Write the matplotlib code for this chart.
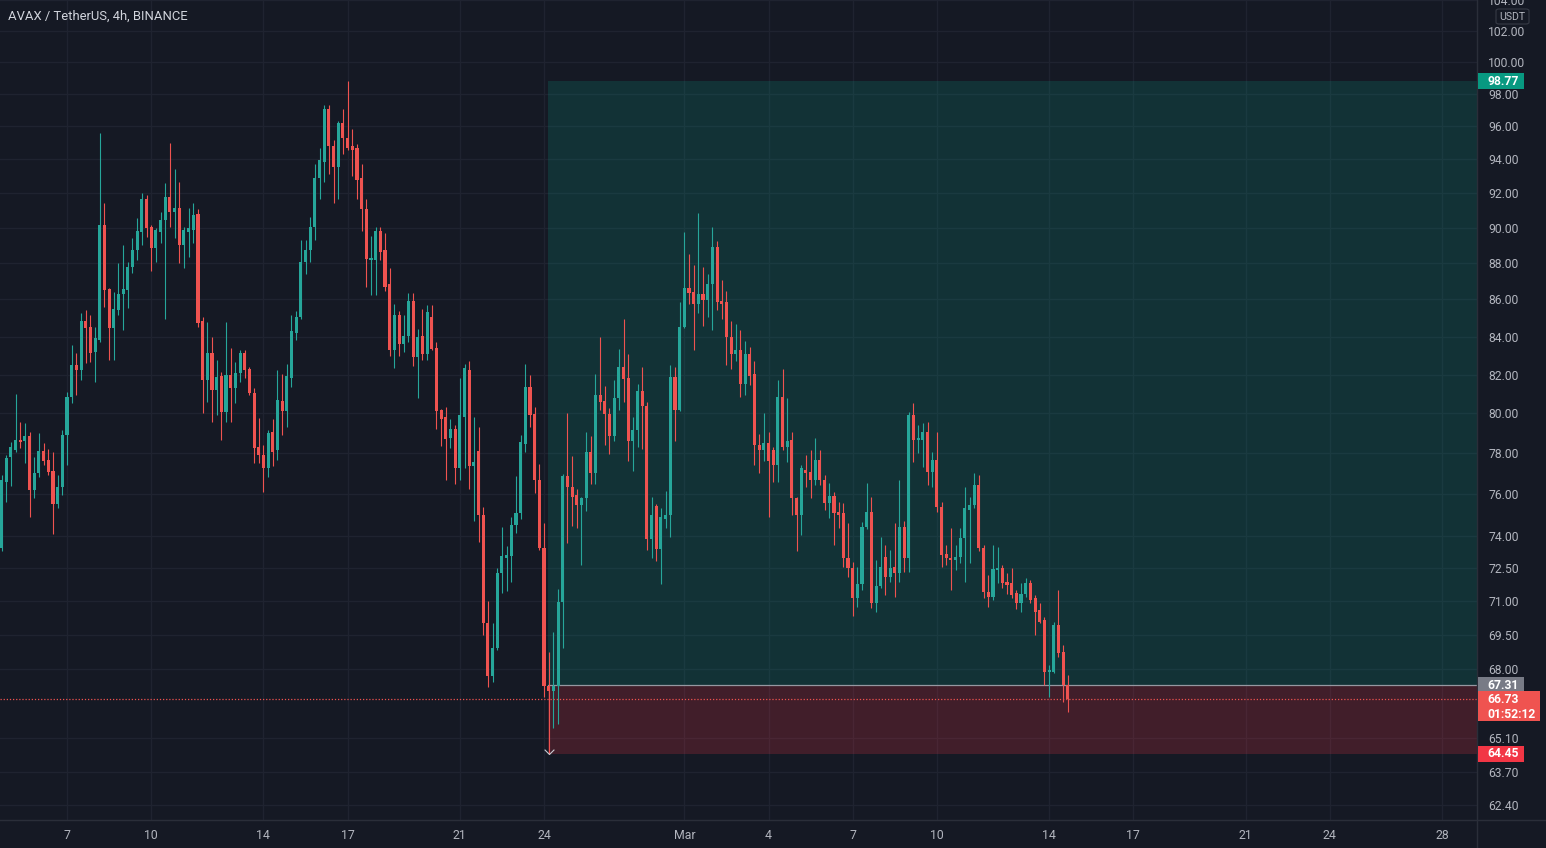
import numpy as np
import pandas as pd
import matplotlib
matplotlib.use("Agg")
import matplotlib.pyplot as plt
from matplotlib.patches import Rectangle, FancyBboxPatch
from matplotlib.lines import Line2D
from matplotlib.ticker import FixedLocator, NullLocator, FixedFormatter

plt.rcParams['font.family'] = ['Roboto', 'DejaVu Sans']

# ---------------- data (AVAX / USDT, 4h candles) ----------------
start = pd.Timestamp('2022-02-04 16:00')

opens = [
    73.44, 76.58, 77.81, 78.16, 78.65, 78.60, 78.85, 76.20, 77.02, 78.11,
    77.66, 77.12, 75.52, 76.34, 78.90, 80.83, 82.49, 82.23, 84.83, 84.50,
    83.17, 83.81, 90.16, 86.58, 84.45, 85.43, 86.30, 86.52, 87.79, 88.74,
    89.76, 91.66, 90.05, 88.85, 89.76, 90.45, 91.78, 90.91, 91.14, 89.03,
    89.76, 89.88, 90.79, 84.83, 81.71, 83.12, 81.19, 81.92, 80.07, 81.97,
    81.30, 82.08, 83.12, 82.28, 81.04, 78.31, 77.91, 77.27, 79.06, 78.16,
    80.63, 80.12, 81.82, 84.19, 85.05, 88.07, 88.74, 90.05, 92.89, 93.84,
    97.05, 94.80, 93.55, 96.20, 95.28, 94.80, 94.68, 92.89, 91.08, 88.18,
    88.18, 89.82, 88.74, 86.85, 83.28, 85.16, 83.60, 84.02, 85.92, 82.91,
    84.02, 83.07, 85.05, 83.38, 80.17, 79.81, 78.75, 79.21, 77.27, 79.81,
    82.23, 77.37, 78.11, 74.99, 70.02, 67.70, 68.92, 72.28, 72.97, 73.07,
    74.52, 75.09, 78.45, 81.35, 79.96, 76.68, 73.44, 67.27, 67.06, 67.27,
    70.96, 76.88, 76.34, 75.95, 75.47, 75.81, 78.06, 77.02, 80.94, 80.63,
    79.96, 78.85, 80.78, 82.39, 81.82, 78.60, 79.16, 81.14, 80.37, 73.86,
    75.42, 73.40, 74.80, 74.99, 81.87, 80.17, 84.51, 86.63, 86.41, 85.76,
    86.30, 85.97, 86.85, 88.91, 85.92, 85.86, 83.97, 83.07, 83.28, 81.50,
    83.07, 82.02, 78.40, 78.16, 78.50, 78.16, 77.42, 80.83, 78.31, 78.65,
    75.81, 74.99, 77.17, 77.07, 76.68, 77.66, 76.68, 75.57, 75.90, 75.14,
    75.09, 72.97, 72.51, 71.14, 71.78, 74.42, 75.14, 70.92, 71.69, 73.02,
    72.10, 72.56, 72.28, 74.42, 72.97, 79.91, 78.65, 78.65, 79.06, 77.07,
    77.66, 75.38, 73.16, 72.97, 72.88, 73.02, 73.90, 75.23, 75.47, 76.44,
    73.44, 71.42, 71.19, 72.42, 72.51, 71.87, 71.82, 71.37, 70.92, 71.33,
    71.82, 71.14, 70.60, 70.16, 67.87, 67.87, 69.93, 68.74, 67.32,
]
highs = [
    76.92, 77.91, 78.55, 80.98, 79.56, 79.51, 79.06, 77.81, 79.01, 78.50,
    78.21, 78.06, 76.92, 79.16, 81.09, 83.54, 83.12, 85.27, 85.43, 85.16,
    84.51, 95.59, 91.43, 86.63, 86.41, 88.01, 89.03, 88.07, 89.42, 90.56,
    92.01, 91.90, 90.16, 89.99, 90.91, 92.60, 94.98, 93.43, 92.66, 90.05,
    91.14, 91.43, 91.08, 85.05, 84.78, 83.97, 82.75, 82.13, 84.78, 83.38,
    82.65, 83.28, 83.28, 82.39, 81.30, 79.76, 78.40, 79.16, 79.71, 82.23,
    82.02, 82.54, 85.16, 85.38, 89.31, 89.31, 90.62, 93.73, 94.68, 97.30,
    97.30, 95.16, 96.32, 97.05, 98.77, 95.83, 94.92, 93.73, 91.66, 89.54,
    90.05, 90.05, 89.71, 87.73, 85.76, 85.38, 85.16, 86.36, 86.36, 84.40,
    85.48, 85.70, 85.70, 83.70, 80.22, 80.32, 79.71, 79.41, 81.82, 82.54,
    82.70, 79.81, 79.31, 75.38, 71.01, 70.02, 72.51, 74.42, 73.53, 74.89,
    76.88, 78.90, 82.54, 81.97, 80.32, 77.46, 74.61, 68.74, 69.62, 71.55,
    76.97, 80.02, 77.86, 76.25, 75.86, 79.06, 78.85, 82.02, 83.97, 81.40,
    80.27, 81.71, 83.33, 84.94, 83.07, 79.81, 81.50, 82.39, 80.58, 75.86,
    75.52, 75.33, 76.15, 82.49, 82.39, 85.86, 89.76, 88.52, 87.90, 90.85,
    87.79, 87.40, 90.05, 89.25, 87.07, 86.47, 84.83, 84.67, 84.35, 83.76,
    83.44, 82.70, 78.95, 80.02, 79.06, 78.31, 81.71, 82.28, 80.78, 79.06,
    75.86, 77.42, 77.91, 78.16, 78.75, 78.16, 76.92, 76.54, 76.10, 75.61,
    75.57, 74.61, 72.79, 72.56, 74.66, 76.54, 75.86, 72.88, 73.95, 73.58,
    73.35, 74.61, 76.68, 74.70, 80.07, 80.53, 79.41, 79.51, 79.56, 78.06,
    79.06, 75.61, 73.58, 74.37, 73.58, 74.37, 76.34, 75.86, 77.02, 76.92,
    73.58, 72.19, 73.58, 73.49, 72.65, 72.28, 72.51, 71.51, 71.82, 72.05,
    71.96, 71.28, 70.92, 70.29, 68.18, 70.07, 71.51, 69.05, 67.74,
]
lows = [
    73.30, 75.61, 76.39, 78.06, 78.26, 77.51, 74.89, 75.81, 76.83, 77.42,
    76.92, 74.09, 75.33, 75.95, 77.42, 80.53, 80.94, 81.71, 82.59, 82.65,
    81.61, 83.70, 85.59, 82.75, 82.75, 85.16, 84.35, 85.54, 87.46, 88.18,
    89.03, 89.48, 87.57, 88.07, 89.14, 84.94, 90.05, 89.42, 88.01, 87.73,
    88.35, 89.14, 84.51, 80.02, 80.58, 79.56, 79.91, 78.65, 79.56, 79.56,
    80.53, 81.61, 81.82, 80.94, 77.51, 77.51, 76.10, 76.83, 77.37, 77.66,
    78.90, 79.31, 81.35, 83.81, 84.94, 87.40, 88.07, 89.31, 91.66, 92.66,
    93.14, 91.43, 91.66, 94.32, 94.56, 93.02, 91.66, 89.82, 86.69, 86.25,
    86.25, 88.18, 86.47, 82.96, 82.34, 82.96, 83.17, 83.70, 82.44, 80.78,
    82.75, 82.75, 83.28, 79.21, 78.36, 76.68, 78.26, 76.49, 76.68, 77.27,
    76.25, 74.70, 73.72, 69.49, 67.23, 67.44, 68.83, 71.37, 71.46, 71.87,
    74.14, 74.80, 78.06, 79.31, 76.05, 73.35, 66.81, 64.45, 65.51, 65.67,
    68.92, 73.67, 74.47, 74.37, 72.65, 75.19, 76.49, 76.49, 80.17, 78.40,
    77.96, 78.60, 80.17, 80.58, 77.61, 77.12, 78.31, 78.21, 73.35, 72.97,
    72.83, 71.78, 74.37, 73.95, 78.60, 80.12, 84.45, 85.76, 83.28, 85.27,
    84.56, 85.05, 84.35, 85.43, 84.94, 82.49, 82.28, 82.70, 80.83, 80.94,
    81.45, 77.42, 77.02, 77.61, 74.89, 76.58, 76.58, 78.16, 77.56, 74.99,
    73.30, 74.04, 76.34, 75.81, 76.44, 76.44, 75.23, 74.85, 73.58, 74.37,
    72.56, 72.10, 70.34, 70.74, 71.51, 74.33, 70.69, 70.51, 71.60, 71.28,
    71.87, 71.19, 71.87, 72.33, 72.33, 77.56, 78.01, 77.32, 76.44, 76.34,
    75.14, 72.56, 72.65, 71.51, 72.42, 72.74, 71.87, 72.74, 75.33, 73.30,
    71.14, 70.74, 71.05, 71.82, 71.60, 71.33, 71.14, 70.65, 70.51, 71.19,
    70.92, 69.49, 70.02, 67.32, 66.81, 67.83, 68.53, 66.60, 66.18,
]
closes = [
    76.68, 77.76, 78.31, 78.65, 78.55, 78.85, 76.20, 77.02, 78.11, 77.61,
    77.07, 75.52, 76.34, 78.90, 80.83, 82.49, 82.23, 84.83, 84.45, 83.12,
    83.92, 90.16, 86.52, 84.45, 85.48, 86.30, 86.58, 87.79, 88.74, 89.82,
    91.66, 89.99, 88.85, 89.88, 90.45, 91.78, 90.91, 91.14, 89.03, 89.88,
    89.99, 90.73, 84.72, 81.71, 83.12, 81.19, 81.87, 80.07, 81.97, 81.30,
    82.08, 83.12, 82.23, 81.04, 78.26, 77.91, 77.27, 79.01, 78.06, 80.68,
    80.12, 81.92, 84.29, 85.05, 88.07, 88.74, 90.05, 92.89, 93.96, 97.05,
    94.80, 93.55, 96.20, 95.28, 94.68, 94.56, 92.77, 91.08, 88.24, 88.29,
    89.82, 88.63, 86.69, 83.28, 85.16, 83.60, 84.02, 85.92, 82.91, 83.97,
    83.07, 85.32, 83.33, 80.12, 79.71, 78.70, 79.21, 77.27, 79.91, 82.34,
    77.37, 77.56, 74.99, 70.02, 67.70, 68.92, 72.28, 73.07, 73.12, 74.52,
    75.09, 78.55, 81.35, 79.91, 76.68, 73.44, 67.27, 67.06, 67.27, 70.96,
    76.88, 76.34, 75.86, 75.47, 75.81, 78.06, 77.02, 80.94, 80.58, 79.96,
    78.85, 80.78, 82.39, 81.76, 78.60, 79.16, 81.14, 80.37, 73.86, 74.99,
    73.40, 74.89, 74.99, 81.87, 80.17, 84.51, 86.63, 86.36, 85.76, 86.30,
    85.97, 86.85, 88.91, 85.86, 85.76, 83.97, 83.07, 83.28, 81.50, 83.07,
    81.92, 78.40, 78.16, 78.50, 77.61, 77.42, 80.83, 78.31, 78.60, 75.81,
    74.99, 77.27, 77.02, 76.68, 77.66, 76.68, 75.57, 75.90, 75.09, 74.99,
    72.97, 72.51, 71.14, 71.78, 74.42, 75.14, 70.92, 71.69, 72.56, 72.10,
    72.51, 72.28, 74.42, 72.97, 79.91, 78.65, 78.75, 79.06, 77.07, 77.66,
    75.38, 73.12, 72.97, 72.88, 73.02, 73.90, 75.33, 75.47, 76.44, 73.44,
    71.42, 71.19, 72.47, 72.51, 71.82, 71.73, 71.28, 70.92, 71.33, 71.82,
    71.05, 70.51, 70.07, 67.87, 67.96, 69.93, 68.70, 67.32, 66.73,
]

# long position tool
position_start = pd.Timestamp('2022-02-24 04:00')
entry_price, stop_price, target_price = 67.31, 64.45, 98.77
last_price = 66.73
countdown = '01:52:12'

price_ticks = [104, 102, 100, 98, 96, 94, 92, 90, 88, 86, 84, 82, 80, 78, 76,
               74, 72.5, 71, 69.5, 68, 65.1, 63.7, 62.4]
date_ticks = ['2022-02-07', '2022-02-10', '2022-02-14', '2022-02-17', '2022-02-21',
              '2022-02-24', '2022-03-01', '2022-03-04', '2022-03-07', '2022-03-10',
              '2022-03-14', '2022-03-17', '2022-03-21', '2022-03-24', '2022-03-28']
date_labels = ['7', '10', '14', '17', '21', '24', 'Mar', '4', '7', '10', '14', '17',
               '21', '24', '28']

title = 'AVAX / TetherUS, 4h, BINANCE'

# ---------------- style ----------------
BG = '#151924'
GRID = '#1f2330'
SEP = '#2a2e39'
TXT = '#b2b5be'
UP = '#26a69a'
DN = '#ef5350'

W, H = 1546, 848
fig = plt.figure(figsize=(W / 100, H / 100), dpi=100, facecolor=BG)
ax = fig.add_axes([0, 28 / H, 1477 / W, 820 / H])
ax.set_facecolor(BG)

bar_hours = 4.0
def to_x(t):
    return (pd.Timestamp(t) - start) / pd.Timedelta(hours=bar_hours)

n = len(opens)
x = np.arange(n)
o = np.array(opens); h = np.array(highs); l = np.array(lows); c = np.array(closes)
up = c >= o
cols = np.where(up, UP, DN)

ax.set_yscale('log')
ax.set_ylim(61.80, 104.01)
ax.set_xlim(-0.33, 315.5)

# grid
for p in price_ticks:
    ax.axhline(p, color=GRID, lw=1.0, zorder=0)
xt = [to_x(d) for d in date_ticks]
for xv in xt:
    ax.axvline(xv, color=GRID, lw=1.0, zorder=0)

# position zones
x0 = to_x(position_start) - 0.2
x1 = ax.get_xlim()[1]
ax.add_patch(Rectangle((x0, entry_price), x1 - x0, target_price - entry_price,
                       facecolor='#089981', alpha=0.2, edgecolor='none', zorder=1))
ax.add_patch(Rectangle((x0, stop_price), x1 - x0, entry_price - stop_price,
                       facecolor='#f23645', alpha=0.2, edgecolor='none', zorder=1))
ax.plot([x0, x1], [entry_price, entry_price], color='#9598a1', lw=0.9, zorder=2)

# candles
ax.vlines(x, l, h, colors=cols, lw=0.8, zorder=3)
body_lo = np.minimum(o, c)
body_h = np.maximum(np.abs(c - o), body_lo * 0.0009)
ax.bar(x, body_h, bottom=body_lo, width=0.66, color=cols, edgecolor='none', zorder=4)

# current price dotted line
ax.axhline(last_price, color=DN, lw=0.9, ls=(0, (1, 1.5)), zorder=5)

# low marker of position
ax.plot([to_x(position_start)], [stop_price], marker=[(-1, 1), (0, 0), (1, 1)],
        ms=7, mfc='none', mec='#c9ccd3', mew=0.8, zorder=6)

# axes/ticks
for s in ax.spines.values():
    s.set_visible(False)
ax.yaxis.tick_right()
ax.yaxis.set_major_locator(FixedLocator(price_ticks))
ax.yaxis.set_major_formatter(FixedFormatter([f'{p:.2f}' for p in price_ticks]))
ax.yaxis.set_minor_locator(NullLocator())
ax.yaxis.set_minor_formatter(FixedFormatter([]))
ax.tick_params(axis='y', length=0, pad=8, labelsize=8.7, labelcolor=TXT)
ax.set_xticks(xt)
ax.set_xticklabels(date_labels)
ax.tick_params(axis='x', length=0, pad=6.5, labelsize=8.8, labelcolor=TXT)
for lab in ax.get_yticklabels():
    lab.set_horizontalalignment('left')

# separators
fig.add_artist(Line2D([1477 / W, 1477 / W], [0, 1], color=SEP, lw=1))
fig.add_artist(Line2D([0, 1], [28 / H, 28 / H], color=SEP, lw=1))

# price labels on scale
fig.canvas.draw()
def ydisp(p):
    return ax.transData.transform((0, p))[1]

def scale_label(p, text, face, up_px=8, down_px=8, width=46, sub=None):
    yd = ydisp(p)
    fig.add_artist(Rectangle((1478 / W, (yd - down_px) / H), width / W, (up_px + down_px) / H,
                             transform=fig.transFigure, facecolor=face, edgecolor='none', zorder=10))
    fig.text(1487 / W, yd / H, text, color='white', fontsize=8.7, fontweight='bold',
             va='center', ha='left', zorder=11)
    if sub:
        fig.text(1487 / W, (yd - 15) / H, sub, color='white', fontsize=8.7, fontweight='bold',
                 va='center', ha='left', zorder=11)

scale_label(target_price, f'{target_price:.2f}', '#089981')
scale_label(entry_price, f'{entry_price:.2f}', '#787b86')
scale_label(last_price, f'{last_price:.2f}', DN, up_px=8, down_px=22, width=62, sub=countdown)
scale_label(stop_price, f'{stop_price:.2f}', '#f23645')

# USDT unit box
fig.add_artist(FancyBboxPatch((1496 / W, 1 - 24 / H), 33 / W, 15 / H,
                              boxstyle='round,pad=0,rounding_size=0.002',
                              transform=fig.transFigure, facecolor=BG, edgecolor='#363a45', lw=0.8, zorder=10))
fig.text(1512.5 / W, 1 - 16.5 / H, 'USDT', color=TXT, fontsize=7.6, ha='center', va='center', zorder=11)

# title
fig.text(8 / W, 1 - 16 / H, title, color='#d1d4dc', fontsize=9.4, ha='left', va='center')

fig.savefig('out.png', dpi=100, facecolor=BG)
